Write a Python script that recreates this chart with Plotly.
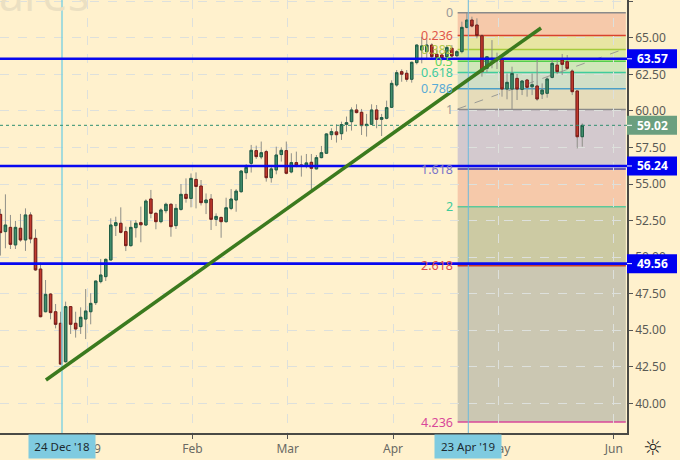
import plotly.graph_objects as go

# Bar index counted from 24 Dec 2018 = 0
bar_index = list(range(-12, 105))
opens = [52.93,51.75,52.04,50.84,51.98,51.18,52.89,51.29,49.19,46.27,47.48,46.27,45.48,42.85,46.62,45.48,45.25,45.77,46.27,46.89,48.33,48.67,
         49.81,52.16,52.32,51.75,50.79,52.02,52.36,52.20,53.98,53.00,52.43,53.18,53.62,52.16,53.27,54.30,54.02,55.32,54.87,53.73,53.98,52.59,
         52.72,52.43,53.34,53.91,54.48,55.78,56.42,57.29,56.86,57.22,55.44,55.97,57.02,57.29,55.83,56.47,56.31,56.24,56.49,56.04,56.81,57.11,
         58.38,58.57,58.45,59.09,59.27,60.07,59.91,59.00,59.09,60.07,59.43,59.50,60.25,61.78,62.69,62.58,62.17,63.31,64.17,64.06,64.51,63.88,
         63.83,63.72,64.29,63.78,64.06,65.72,66.22,65.88,65.15,62.92,63.49,63.49,63.53,61.50,61.50,62.23,61.48,62.12,61.66,61.71,61.16,61.21,
         62.30,63.14,63.49,63.37,62.73,61.37,58.24]
highs = [53.30,54.30,52.89,52.48,52.96,53.34,53.07,51.91,49.63,48.44,47.53,46.80,46.27,46.96,46.66,46.27,46.57,47.82,47.53,48.37,49.88,49.92,
         52.66,52.77,53.41,52.09,52.50,52.54,53.46,53.96,54.60,53.07,53.34,53.73,53.68,53.64,55.00,55.39,55.73,55.80,55.28,54.36,54.32,53.00,
         52.77,54.07,54.66,54.66,55.96,56.37,57.68,57.63,57.91,57.34,56.31,57.56,57.52,57.91,57.11,57.22,56.95,57.06,57.06,56.99,57.61,58.48,
         58.82,59.09,59.27,59.62,60.25,60.46,60.14,59.80,60.46,60.41,59.80,60.71,62.10,62.80,62.85,62.80,63.37,64.56,65.08,65.00,64.63,64.29,
         63.94,64.51,64.51,64.17,66.11,66.72,66.45,66.34,65.24,63.76,64.85,63.99,63.71,62.57,63.03,62.53,62.12,62.19,62.57,63.49,61.89,62.30,
         63.60,63.60,63.90,63.83,62.85,61.37,59.15]
lows = [50.11,50.61,50.56,50.56,51.06,50.43,50.95,49.06,45.89,46.23,45.75,45.13,42.63,42.79,44.75,44.50,44.75,44.40,45.41,46.73,48.21,48.37,
        49.81,51.45,51.63,50.42,50.72,51.34,51.02,52.16,52.66,51.91,52.32,53.00,51.40,51.93,53.18,53.73,53.41,53.34,53.54,52.95,51.86,52.13,
        51.33,52.36,53.22,53.11,54.41,55.34,55.79,56.72,56.70,55.17,55.10,55.67,56.54,55.67,55.74,56.15,55.51,56.08,54.60,56.01,56.77,57.06,
        58.02,57.84,58.02,58.59,58.66,59.84,58.36,58.25,59.05,58.82,58.29,59.43,60.20,61.66,62.00,62.00,61.94,63.19,63.26,63.60,63.49,63.49,
        63.44,63.53,63.60,63.67,63.94,65.65,65.72,64.97,62.35,62.62,62.92,62.87,60.98,60.80,60.11,60.75,61.09,60.98,61.09,60.70,60.82,60.91,
        62.23,62.53,62.46,62.92,61.09,57.44,57.56]
closes = [51.68,52.20,50.88,52.04,51.18,52.89,51.25,49.13,45.93,47.46,46.21,45.41,42.69,46.62,45.41,45.09,45.89,46.32,46.84,48.37,48.78,49.85,
          52.20,52.36,51.70,50.79,52.04,52.32,52.22,53.84,53.00,52.43,53.23,53.62,52.09,53.34,54.30,54.02,55.39,54.84,53.73,53.91,52.59,52.79,
          52.43,53.38,53.98,54.52,55.89,56.14,57.31,56.88,57.15,55.44,56.04,56.99,57.31,55.74,56.47,56.29,56.24,56.45,56.08,56.81,57.15,58.43,
          58.59,58.38,59.07,59.20,60.07,59.89,59.00,59.09,60.07,59.43,59.55,60.23,61.89,62.62,62.52,62.17,63.33,64.51,64.45,64.51,63.72,63.67,
          63.60,64.35,63.76,64.06,65.72,66.22,65.81,65.15,62.69,63.71,63.60,63.60,61.50,61.96,62.57,61.50,62.05,61.62,61.80,60.82,61.43,62.19,
          63.26,62.69,63.19,62.92,61.32,58.24,59.02]

BAR_SHIFT = -0.28  # candles sit just left of the date gridline
x_range = [-12.36, 112.64]
y_range = [37.975, 67.592]

y_ticks = [40, 42.5, 45, 47.5, 50, 52.5, 55, 57.5, 60, 62.5, 65, 67.5]
x_tick_idx = [5, 26, 45, 66, 87, 110]
x_tick_labels = ["2019", "Feb", "Mar", "Apr", "May", "Jun"]

levels_blue = [63.57, 56.24, 49.56]
last_price = 59.02

fib_labels = ["0", "0.236", "0.382", "0.5", "0.618", "0.786", "1", "1.618", "2", "2.618", "4.236"]
fib_prices = [66.72, 65.16, 64.20, 63.41, 62.64, 61.52, 60.11, 56.03, 53.45, 49.41, 38.72]
fib_line_colors = ["#8a8a8a", "#d9412e", "#a5cb3c", "#52cf4c", "#3fcb9c", "#4a9fc8", "#8a8a8a", "#3f35a8", "#5cc89a", "#c8412e", "#d8489a"]
fib_text_colors = ["#9a9a9a", "#e0574a", "#b4c94a", "#62d45c", "#3fcb9c", "#5aabd6", "#9a9a9a", "#7a74c8", "#3fcb9c", "#dd4a4a", "#d8489a"]
fib_fills = ["rgba(225,110,90,0.30)", "rgba(180,203,67,0.30)", "rgba(137,214,77,0.30)", "rgba(100,210,140,0.30)",
             "rgba(100,181,184,0.30)", "rgba(173,171,144,0.30)", "rgba(110,108,207,0.30)", "rgba(225,108,90,0.30)",
             "rgba(87,114,67,0.30)", "rgba(84,104,117,0.30)"]
fib_x0, fib_x1 = 78.88, 112.4

trend_x = [-3.2, 95.5]
trend_y = [41.6, 65.68]
fib_trend_x = [78.88, 111.5]
fib_trend_y = [60.14, 64.17]

cross_idx = [0, 81]
cross_colors = ["#86d3df", "#6cb9dc"]
cross_widths = [1.5, 1]
cross_labels = ["24 Dec '18", "23 Apr '19"]

BG = "#fff1cd"
FONT = "Noto Sans"

bar_x = [k + BAR_SHIFT for k in bar_index]
fig = go.Figure()
# wicks
fig.add_trace(go.Candlestick(
    x=bar_x, open=opens, high=highs, low=lows, close=closes, whiskerwidth=0,
    increasing=dict(line=dict(color="#8f8f88", width=1), fillcolor="#8f8f88"),
    decreasing=dict(line=dict(color="#8f8f88", width=1), fillcolor="#8f8f88"),
    showlegend=False, hoverinfo="skip"))
# bodies
fig.add_trace(go.Candlestick(
    x=bar_x, open=opens, close=closes,
    high=[max(o, c) for o, c in zip(opens, closes)],
    low=[min(o, c) for o, c in zip(opens, closes)],
    increasing=dict(line=dict(color="#1f5f46", width=1), fillcolor="#418d6c"),
    decreasing=dict(line=dict(color="#7a1c18", width=1), fillcolor="#c23b2e"),
    showlegend=False, hoverinfo="skip"))

shapes = []
# fib bands and lines
for i, fill in enumerate(fib_fills):
    shapes.append(dict(type="rect", layer="below", xref="x", yref="y", x0=fib_x0, x1=fib_x1,
                       y0=fib_prices[i], y1=fib_prices[i + 1], fillcolor=fill, line_width=0))
for p, col in zip(fib_prices, fib_line_colors):
    shapes.append(dict(type="line", layer="below", xref="x", yref="y", x0=fib_x0, x1=fib_x1, y0=p, y1=p,
                       line=dict(color=col, width=1.5)))
shapes.append(dict(type="line", layer="below", xref="x", yref="y", x0=fib_trend_x[0], x1=fib_trend_x[1],
                   y0=fib_trend_y[0], y1=fib_trend_y[1], line=dict(color="#9a9a94", width=1, dash="dash")))
# crosshair verticals
for k, col, w in zip(cross_idx, cross_colors, cross_widths):
    shapes.append(dict(type="line", layer="above", xref="x", yref="paper", x0=k, x1=k, y0=0, y1=1,
                       line=dict(color=col, width=w)))
# last price dotted
shapes.append(dict(type="line", layer="above", xref="paper", yref="y", x0=0, x1=1, y0=last_price, y1=last_price,
                   line=dict(color="#2f8f70", width=1, dash="dot")))
# blue levels
for p in levels_blue:
    shapes.append(dict(type="line", layer="above", xref="paper", yref="y", x0=0, x1=1, y0=p, y1=p,
                       line=dict(color="#0808f0", width=2.6)))
# trend line
shapes.append(dict(type="line", layer="above", xref="x", yref="y", x0=trend_x[0], x1=trend_x[1],
                   y0=trend_y[0], y1=trend_y[1], line=dict(color="#3b7a1e", width=3.5)))

W = 627.0
def price_box(price, fill):
    shapes.append(dict(type="rect", layer="above", xref="paper", yref="y", ysizemode="pixel", yanchor=price,
                       x0=1.0, x1=1 + 50 / W, y0=-9.5, y1=9.5, fillcolor=fill, line_width=0))
    shapes.append(dict(type="rect", layer="above", xref="paper", yref="y", ysizemode="pixel", yanchor=price,
                       x0=1.0, x1=1 + 5 / W, y0=-0.5, y1=0.5, fillcolor="#ffffff", line_width=0))

ann = []
for p in levels_blue:
    price_box(p, "#0000f0")
    ann.append(dict(xref="paper", yref="y", x=1 + 25.5 / W, y=p, text=f"<b>{p:.2f}</b>", showarrow=False,
                    xanchor="center", yanchor="middle", font=dict(family=FONT, size=12, color="#ffffff")))
price_box(last_price, "#6b9f7f")
ann.append(dict(xref="paper", yref="y", x=1 + 25.5 / W, y=last_price, text=f"<b>{last_price:.2f}</b>", showarrow=False,
                xanchor="center", yanchor="middle", font=dict(family=FONT, size=12, color="#ffffff")))

for lab, p, col in zip(fib_labels, fib_prices, fib_text_colors):
    ann.append(dict(xref="x", yref="y", x=fib_x0, y=p, xshift=-3, text=lab, showarrow=False,
                    xanchor="right", yanchor="middle", font=dict(family=FONT, size=12.5, color=col)))

for k, lab in zip(cross_idx, cross_labels):
    ann.append(dict(xref="x", yref="paper", x=k, y=0, yshift=-1, text=lab, showarrow=False,
                    xanchor="center", yanchor="top", width=66, height=23, bgcolor="#7fcbe0", borderpad=0,
                    font=dict(family=FONT, size=11.5, color="#1c2a30")))

ann.append(dict(xref="paper", yref="paper", x=0, y=1, yshift=-26, text="ares", showarrow=False, xshift=-3,
                xanchor="left", yanchor="bottom", font=dict(family="Open Sans", size=45, color="#ebe0c2")))
ann.append(dict(xref="paper", yref="paper", x=1 + 26 / W, y=0, yshift=-14, text="\u263c", showarrow=False,
                xanchor="center", yanchor="middle", font=dict(family="DejaVu Sans", size=22, color="#222222")))

fig.update_layout(
    width=680, height=460, autosize=False,
    margin=dict(l=0, r=53, t=0, b=27, pad=0),
    paper_bgcolor=BG, plot_bgcolor=BG,
    showlegend=False, shapes=shapes, annotations=ann,
    font=dict(family=FONT, size=12, color="#5a5a55"),
    xaxis=dict(range=x_range, rangeslider=dict(visible=False), tickmode="array", tickvals=x_tick_idx,
               ticktext=x_tick_labels, ticks="outside", ticklen=4, tickcolor="#555555",
               showgrid=True, gridcolor="#dde0dc", griddash="dash", gridwidth=1, zeroline=False,
               showline=True, linecolor="#4a4a46", linewidth=1.5, tickfont=dict(size=12, color="#6a6a64")),
    yaxis=dict(range=y_range, side="right", tickmode="array", tickvals=y_ticks,
               ticktext=[f"{v:.2f}" for v in y_ticks], ticks="outside", ticklen=4, tickcolor="#555555",
               showgrid=True, gridcolor="#dde0dc", griddash="dash", gridwidth=1, zeroline=False,
               showline=True, linecolor="#4a4a46", linewidth=1.5, tickfont=dict(size=12, color="#5a5a55")),
)

fig.write_html("out.html", config=dict(displayModeBar=False),
               post_script="document.body.style.margin='0';document.body.style.overflow='hidden';")
